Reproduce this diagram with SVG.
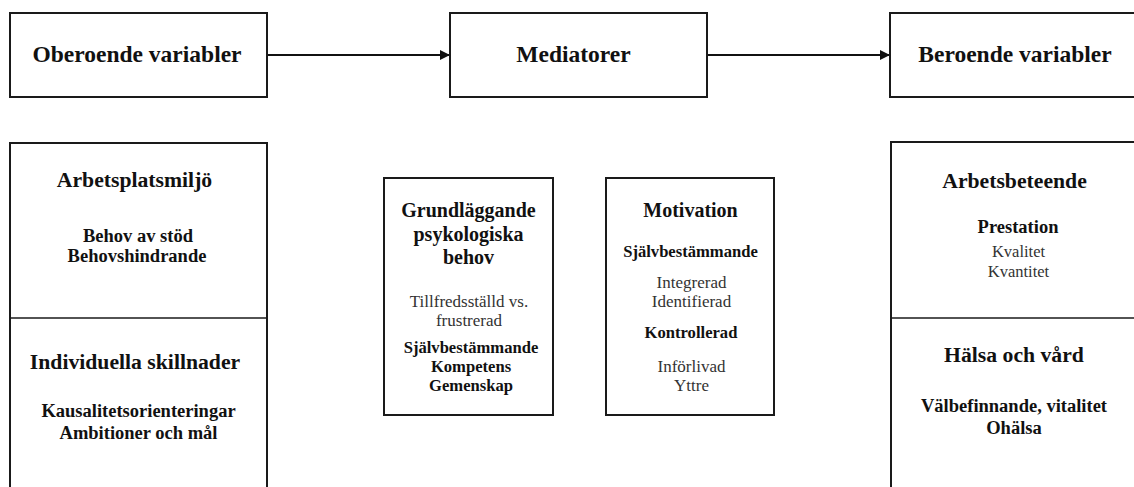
<svg xmlns="http://www.w3.org/2000/svg" width="1134" height="487" viewBox="0 0 1134 487">
<defs>
<marker id="arr" viewBox="0 0 10 10" refX="10" refY="5" markerWidth="17" markerHeight="10" markerUnits="userSpaceOnUse" orient="auto">
<path d="M0,0 L10,5 L0,10 z" fill="#111"/>
</marker>
</defs>
<style>
.box{fill:#fff;stroke:#1a1a1a;stroke-width:2}
.div{stroke:#1a1a1a;stroke-width:1.5}
.conn{stroke:#111;stroke-width:2;fill:none}
text{font-family:"Liberation Serif","Times New Roman",serif;text-anchor:middle;fill:#111}
.top{font-size:23.5px;font-weight:bold}
.h1{font-size:21.7px;font-weight:bold}
.h2{font-size:18.5px;font-weight:bold}
.r{font-size:16.5px;fill:#333}
.mh{font-size:20px;font-weight:bold}
.mb{font-size:16.6px;font-weight:bold}
.mr{font-size:17px;fill:#333}
</style>
<rect width="1134" height="487" fill="#fff"/>
<g id="connectors">
<line class="conn" x1="267" y1="55" x2="450" y2="55" marker-end="url(#arr)"/>
<line class="conn" x1="707" y1="55" x2="890" y2="55" marker-end="url(#arr)"/>
</g>
<g id="oberoende">
<rect class="box" x="10" y="13" width="257" height="84"/>
<text class="top" x="137" y="62">Oberoende variabler</text>
</g>
<g id="mediatorer">
<rect class="box" x="450" y="13" width="257" height="84"/>
<text class="top" x="573.5" y="62">Mediatorer</text>
</g>
<g id="beroende">
<rect class="box" x="890" y="13" width="260" height="84"/>
<text class="top" x="1015" y="62">Beroende variabler</text>
</g>
<g id="oberoende-detalj">
<rect class="box" x="10" y="143" width="257" height="360"/>
<line class="div" x1="10" y1="318" x2="267" y2="318"/>
<text class="h1" x="134.5" y="187">Arbetsplatsmiljö</text>
<text class="h2" x="138" y="242">Behov av stöd</text>
<text class="h2" x="137" y="262">Behovshindrande</text>
<text class="h1" x="135" y="369">Individuella skillnader</text>
<text class="h2" x="138.5" y="417">Kausalitetsorienteringar</text>
<text class="h2" x="138.5" y="439">Ambitioner och mål</text>
</g>
<g id="behov">
<rect class="box" x="384" y="178" width="169" height="237"/>
<text class="mh" x="468.5" y="217">Grundläggande</text>
<text class="mh" x="468.5" y="241">psykologiska</text>
<text class="mh" x="468.5" y="264">behov</text>
<text class="mr" x="469" y="307">Tillfredsställd vs.</text>
<text class="mr" x="469" y="326">frustrerad</text>
<text class="mb" x="471" y="353">Självbestämmande</text>
<text class="mb" x="471" y="372">Kompetens</text>
<text class="mb" x="471" y="391">Gemenskap</text>
</g>
<g id="motivation">
<rect class="box" x="606" y="178" width="168" height="237"/>
<text class="mh" x="690.5" y="217">Motivation</text>
<text class="mb" x="690.5" y="257">Självbestämmande</text>
<text class="mr" x="691.5" y="288">Integrerad</text>
<text class="mr" x="691.5" y="307">Identifierad</text>
<text class="mb" x="691" y="338">Kontrollerad</text>
<text class="mr" x="691.5" y="372">Införlivad</text>
<text class="mr" x="691.5" y="391">Yttre</text>
</g>
<g id="beroende-detalj">
<rect class="box" x="891" y="142" width="260" height="360"/>
<line class="div" x1="891" y1="318" x2="1134" y2="318"/>
<text class="h1" x="1014.5" y="188">Arbetsbeteende</text>
<text class="h2" x="1018" y="233">Prestation</text>
<text class="r" x="1018.5" y="257">Kvalitet</text>
<text class="r" x="1018.5" y="277">Kvantitet</text>
<text class="h1" x="1014" y="362">Hälsa och vård</text>
<text class="h2" x="1014" y="412">Välbefinnande, vitalitet</text>
<text class="h2" x="1014" y="434">Ohälsa</text>
</g>
</svg>
